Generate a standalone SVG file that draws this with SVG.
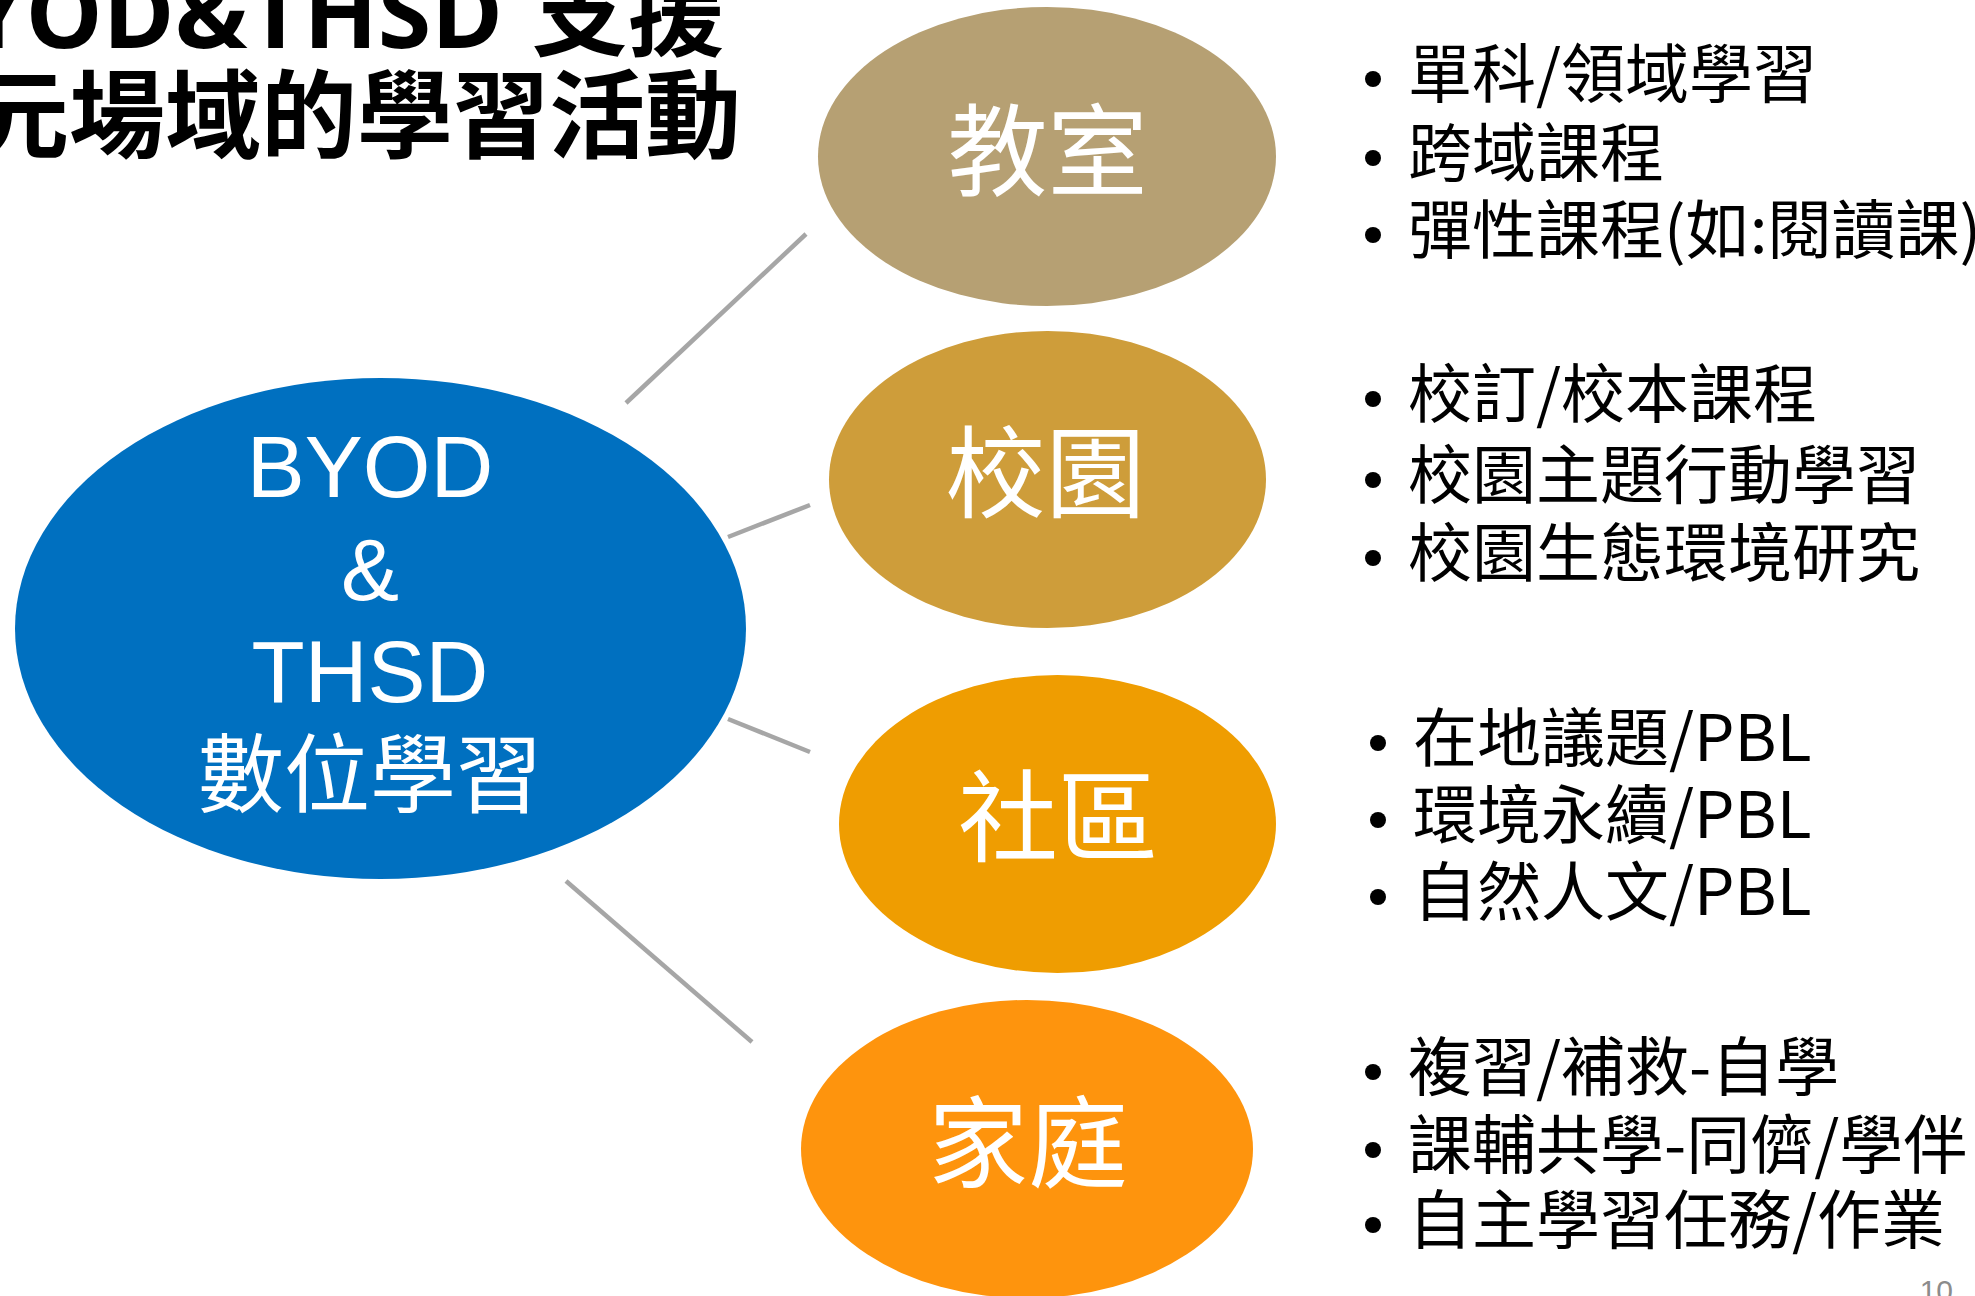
<svg xmlns="http://www.w3.org/2000/svg" width="1975" height="1296" viewBox="0 0 1975 1296">
<style>
.title{font-family:"Open Sans","Noto Sans CJK TC",sans-serif;font-weight:bold;font-size:97px;fill:#000}
.titlecjk{font-family:"Noto Sans CJK TC",sans-serif;font-weight:bold;font-size:96px;fill:#000}
.conn{stroke:#a6a6a6;stroke-width:4.5;fill:none}
.lbl{font-family:"Noto Sans CJK TC",sans-serif;font-size:100px;fill:#fff;text-anchor:middle}
.hub{font-family:"Liberation Sans","Noto Sans CJK TC",sans-serif;font-size:87px;fill:#fff;text-anchor:middle}
.hubcjk{font-family:"Noto Sans CJK TC",sans-serif;font-size:86px;fill:#fff;text-anchor:middle}
.item{font-family:"Noto Sans CJK TC",sans-serif;font-size:64px;fill:#000}
.dot{fill:#000}
.pg{font-family:"Liberation Sans",sans-serif;font-size:30px;fill:#8c8c8c;text-anchor:end}
</style>
<rect width="1975" height="1296" fill="#fff"/>
<g id="title">
<text class="title" x="503" y="48" text-anchor="end">YOD&amp;THSD</text>
<text class="titlecjk" x="532" y="48">支援</text>
<text class="titlecjk" x="-27" y="150">元場域的學習活動</text>
</g>
<g id="connectors">
<line class="conn" x1="626" y1="403" x2="806" y2="234"/>
<line class="conn" x1="728" y1="537" x2="810" y2="505"/>
<line class="conn" x1="728" y1="719" x2="810" y2="752"/>
<line class="conn" x1="566" y1="881" x2="752" y2="1042"/>
</g>
<g id="hub">
<ellipse cx="380.5" cy="628.5" rx="365.5" ry="250.5" fill="#0070c0"/>
<text class="hub" x="370" y="497">BYOD</text>
<text class="hub" x="370" y="600">&amp;</text>
<text class="hub" x="370" y="702">THSD</text>
<text class="hubcjk" x="370" y="806">數位學習</text>
</g>
<g id="classroom">
<ellipse cx="1047" cy="156.5" rx="229" ry="149.5" fill="#b6a073"/>
<text class="lbl" x="1047.5" y="188">教室</text>
</g>
<g id="campus">
<ellipse cx="1047.5" cy="479.5" rx="218.5" ry="148.5" fill="#ce9d3a"/>
<text class="lbl" x="1045.5" y="510">校園</text>
</g>
<g id="community">
<ellipse cx="1057.5" cy="824" rx="218.5" ry="149" fill="#ef9d01"/>
<text class="lbl" x="1058" y="854">社區</text>
</g>
<g id="home">
<ellipse cx="1027" cy="1149" rx="226" ry="149" fill="#fe940d"/>
<text class="lbl" x="1028" y="1180">家庭</text>
</g>
<g id="list-classroom">
<circle class="dot" cx="1373" cy="79" r="8"/>
<circle class="dot" cx="1373" cy="158" r="8"/>
<circle class="dot" cx="1373" cy="235" r="8"/>
<text class="item" x="1408" y="97">單科/領域學習</text>
<text class="item" x="1408" y="176">跨域課程</text>
<text class="item" x="1408" y="253">彈性課程(如:閱讀課)</text>
</g>
<g id="list-campus">
<circle class="dot" cx="1373" cy="399" r="8"/>
<circle class="dot" cx="1373" cy="480" r="8"/>
<circle class="dot" cx="1373" cy="558" r="8"/>
<text class="item" x="1408" y="417">校訂/校本課程</text>
<text class="item" x="1408" y="498">校園主題行動學習</text>
<text class="item" x="1408" y="576">校園生態環境研究</text>
</g>
<g id="list-community">
<circle class="dot" cx="1378" cy="743" r="8"/>
<circle class="dot" cx="1378" cy="820" r="8"/>
<circle class="dot" cx="1378" cy="897" r="8"/>
<text class="item" x="1413" y="761">在地議題/PBL</text>
<text class="item" x="1413" y="838">環境永續/PBL</text>
<text class="item" x="1413" y="915">自然人文/PBL</text>
</g>
<g id="list-home">
<circle class="dot" cx="1373" cy="1072" r="8"/>
<circle class="dot" cx="1373" cy="1150" r="8"/>
<circle class="dot" cx="1373" cy="1225" r="8"/>
<text class="item" x="1408" y="1090">複習/補救-自學</text>
<text class="item" x="1408" y="1168">課輔共學-同儕/學伴</text>
<text class="item" x="1408" y="1243">自主學習任務/作業</text>
</g>
<text class="pg" x="1953" y="1301">10</text>
</svg>
